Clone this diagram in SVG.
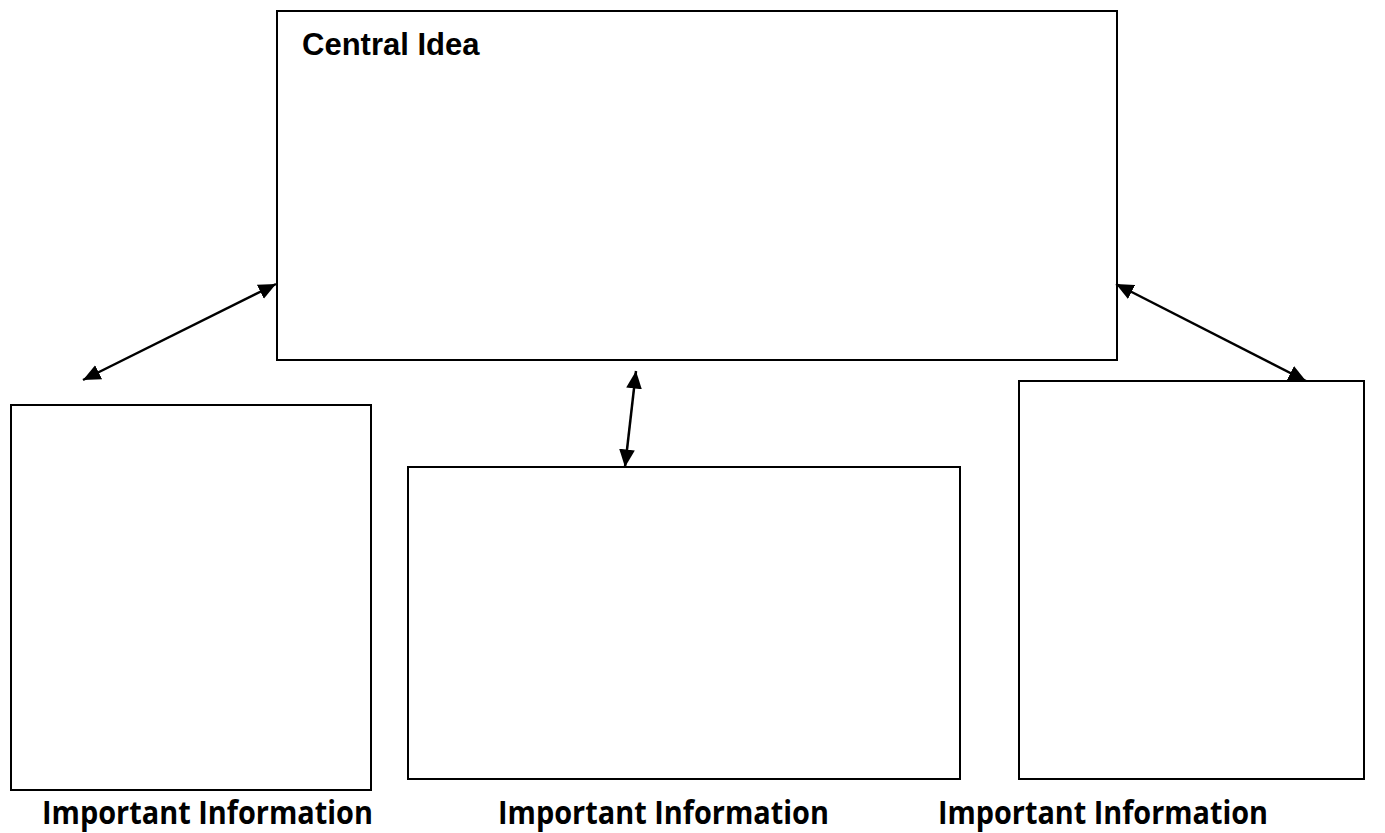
<svg xmlns="http://www.w3.org/2000/svg" width="1385" height="833" viewBox="0 0 1385 833">
<style>
.box{fill:#fff;stroke:#000;stroke-width:2}
.conn{stroke:#000;stroke-width:2.5;fill:none;marker-start:url(#ah);marker-end:url(#ah)}
.title{font-family:"Liberation Sans",Arial,sans-serif;font-weight:bold;font-size:31px;fill:#000}
.lbl{font-family:"Open Sans","Liberation Sans",sans-serif;font-weight:bold;font-size:33px;fill:#000}
</style>
<defs>
<marker id="ah" viewBox="0 0 10 10" refX="10" refY="5" markerWidth="7" markerHeight="7" orient="auto-start-reverse" markerUnits="strokeWidth">
<path d="M0,0.5 L10,5 L0,9.5 z" fill="#000"/>
</marker>
</defs>
<rect width="1385" height="833" fill="#fff"/>
<g id="central">
<rect class="box" x="277" y="11" width="840" height="349"/>
<text class="title" x="302" y="55">Central Idea</text>
</g>
<g id="left">
<rect class="box" x="11" y="405" width="360" height="385"/>
<text class="lbl" x="42" y="824" textLength="331" lengthAdjust="spacingAndGlyphs">Important Information</text>
</g>
<g id="middle">
<rect class="box" x="408" y="467" width="552" height="312"/>
<text class="lbl" x="498" y="824" textLength="331" lengthAdjust="spacingAndGlyphs">Important Information</text>
</g>
<g id="right">
<rect class="box" x="1019" y="381" width="345" height="398"/>
<text class="lbl" x="938" y="824" textLength="330" lengthAdjust="spacingAndGlyphs">Important Information</text>
</g>
<g id="connectors">
<line class="conn" x1="83" y1="380" x2="276" y2="284"/>
<line class="conn" x1="625" y1="467" x2="636" y2="371"/>
<line class="conn" x1="1116" y1="284" x2="1306" y2="381"/>
</g>
</svg>
